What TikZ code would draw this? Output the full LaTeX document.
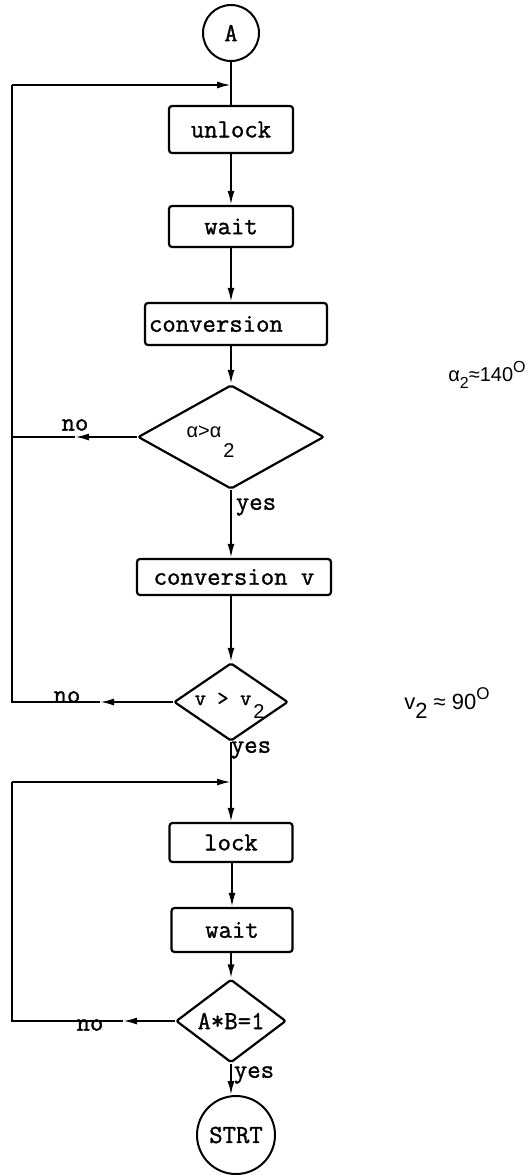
\documentclass[tikz,border=0pt]{standalone}
\usepackage{fontspec}
\setmainfont{Liberation Serif}
\setsansfont{Liberation Sans}
\setmonofont{Latin Modern Mono}[FakeBold=1.2]
\usetikzlibrary{arrows.meta,shapes.geometric}
\begin{document}
\begin{tikzpicture}[x=1pt,y=-1pt,
  line width=2pt,
  every node/.style={font=\ttfamily\fontsize{26}{26}\selectfont},
  box/.style={draw, rounded corners=3pt, inner sep=0pt, line width=2.2pt},
  dec/.style={draw, diamond, inner sep=0pt, line width=2.2pt, rounded corners=2pt},
  term/.style={draw, circle, inner sep=0pt, line width=2pt},
  lbl/.style={inner sep=0pt},
  sflbl/.style={inner sep=0pt, font=\sffamily\fontsize{20}{20}\selectfont},
  arr/.style={-{Latex[length=14pt,width=7pt]}},
]
\useasboundingbox (0,0) rectangle (529,1176);
% nodes
\node[term, minimum size=56pt] (A) at (231,33) {A};
\node[box, minimum width=124pt, minimum height=47pt] (unlock) at (231,129.5) {unlock};
\node[box, minimum width=124pt, minimum height=41pt] (wait1) at (231,226.5) {wait};
\node[box, minimum width=182pt, minimum height=42pt, text width=174pt, align=left] (conv) at (236,324) {conversion};
\node[dec, minimum width=186pt, minimum height=104pt] (d1) at (231,437) {};
\node[sflbl] (d1t) at (204,432) {α>α};
\node[sflbl] (d1s) at (229,451) {2};
\node[box, minimum width=194pt, minimum height=36pt] (convv) at (234,577) {conversion v};
\node[dec, minimum width=114pt, minimum height=78pt] (d2) at (231,702) {};
\node[lbl, font=\ttfamily\fontsize{22}{22}\selectfont] (d2t) at (223,699) {v > v};
\node[lbl, font=\sffamily\fontsize{20}{20}\selectfont] (d2s) at (259,712) {2};
\node[box, minimum width=123pt, minimum height=39pt] (lock) at (231,842.5) {lock};
\node[box, minimum width=121pt, minimum height=44pt] (wait2) at (232,930) {wait};
\node[dec, minimum width=110pt, minimum height=76pt] (d3) at (231,1021) {A*B=1};
\node[term, minimum size=78pt] (strt) at (236,1135) {STRT};
% labels
\node[lbl] (no1) at (75,425) {no};
\node[lbl] (no2) at (67,697) {no};
\node[lbl] (no3) at (90,1025) {no};
\node[lbl] (yes1) at (256,507) {yes};
\node[lbl] (yes2) at (251,750) {yes};
\node[lbl] (yes3) at (254,1075) {yes};
\node[sflbl, font=\sffamily\fontsize{20}{20}\selectfont] (c1) at (487,375) {α\raisebox{-7pt}{\fontsize{16}{16}\selectfont 2}≈140\raisebox{9pt}{\fontsize{16}{16}\selectfont O}};
\node[sflbl, font=\sffamily\fontsize{22}{22}\selectfont] (c2) at (447,703) {v\raisebox{-9pt}{2} ≈ 90\raisebox{10pt}{\fontsize{17}{17}\selectfont O}};
% coordinates
\coordinate (J1) at (231,85);
\coordinate (L1) at (12,85);
\coordinate (M1) at (75,437);
\coordinate (K1) at (12,437);
\coordinate (M2) at (100,702);
\coordinate (L2) at (12,702);
\coordinate (J2) at (231,782);
\coordinate (L3) at (12,782);
\coordinate (M3) at (123,1021);
\coordinate (L4) at (12,1021);
% connectors
\draw (A.south) -- (unlock.north);
\draw[arr] (L1) -- (J1);
\draw[arr] (unlock) -- (wait1);
\draw[arr] (wait1.south) -- (wait1.south |- conv.north);
\draw[arr] (conv.south -| d1.north) -- (d1.north);
\draw[arr] (d1.west) -- (M1);
\draw (M1) -- (K1);
\draw[arr] (d1.south) -- (d1.south |- convv.north);
\draw[arr] (convv.south -| d2.north) -- (d2.north);
\draw[arr] (d2.west) -- (M2);
\draw (M2) -- (L2) -- (L1);
\draw[arr] (d2.south) -- (lock.north);
\draw[arr] (L3) -- (J2);
\draw[arr] (lock.south) -- (lock.south -| wait2.north) -- (wait2.north);
\draw[arr] (wait2.south -| d3.north) -- (d3.north);
\draw[arr] (d3.west) -- (M3);
\draw (M3) -- (L4) -- (L3);
\draw[arr] (d3.south) -- (d3.south |- strt.north);
\end{tikzpicture}
\end{document}
